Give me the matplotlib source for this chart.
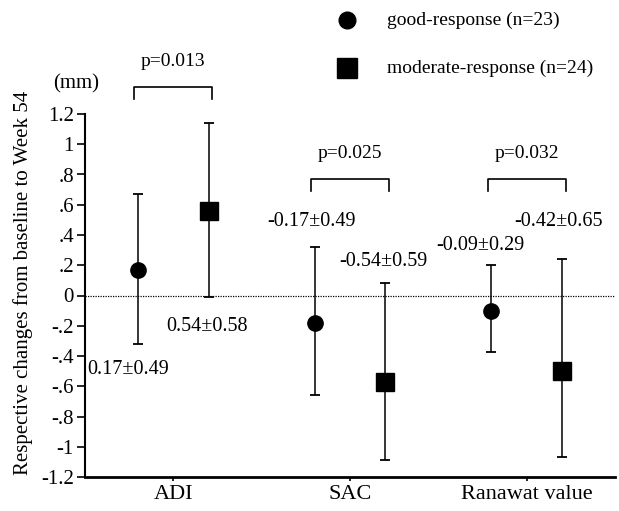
import matplotlib
matplotlib.use("Agg")
import matplotlib.pyplot as plt
from matplotlib.lines import Line2D

plt.rcParams['font.family'] = ['Liberation Serif', 'DejaVu Serif']

categories = ["ADI", "SAC", "Ranawat value"]
good_mean = [0.17, -0.18, -0.105]
good_low = [-0.32, -0.655, -0.375]
good_high = [0.67, 0.32, 0.20]
mod_mean = [0.56, -0.573, -0.50]
mod_low = [-0.013, -1.085, -1.065]
mod_high = [1.14, 0.084, 0.24]
good_labels = ["0.17\u00b10.49", "-0.17\u00b10.49", "-0.09\u00b10.29"]
mod_labels = ["0.54\u00b10.58", "-0.54\u00b10.59", "-0.42\u00b10.65"]
p_values = ["p=0.013", "p=0.025", "p=0.032"]
yticks = [1.2, 1, 0.8, 0.6, 0.4, 0.2, 0, -0.2, -0.4, -0.6, -0.8, -1, -1.2]
ytick_labels = ["1.2", "1", ".8", ".6", ".4", ".2", "0", "-.2", "-.4", "-.6", "-.8", "-1", "-1.2"]
legend_labels = ["good-response (n=23)", "moderate-response (n=24)"]

W, H = 619, 511
fig = plt.figure(figsize=(W / 100, H / 100), dpi=100)
ax = fig.add_axes([85 / W, (H - 477) / H, (615 - 85) / W, (477 - 114) / H])

off = 0.2
xs = list(range(len(categories)))
xg = [x - off for x in xs]
xm = [x + off for x in xs]

ax.errorbar(xg, good_mean,
            yerr=[[m - l for m, l in zip(good_mean, good_low)],
                  [h - m for m, h in zip(good_mean, good_high)]],
            fmt='o', color='black', ms=11, capsize=3.5, elinewidth=1.1, capthick=1.3, zorder=3)
ax.errorbar(xm, mod_mean,
            yerr=[[m - l for m, l in zip(mod_mean, mod_low)],
                  [h - m for m, h in zip(mod_mean, mod_high)]],
            fmt='s', color='black', ms=13, capsize=3.5, elinewidth=1.1, capthick=1.3, zorder=3)

ax.axhline(0, color='black', lw=0.9, ls=(0, (1, 1)), zorder=1)

ax.set_xlim(-0.5, 2.5)
ax.set_ylim(-1.2, 1.2)
ax.set_yticks(yticks)
ax.set_yticklabels(ytick_labels, fontsize=15)
ax.set_xticks(xs)
ax.set_xticklabels(categories, fontsize=16)
ax.tick_params(axis='y', direction='out', length=6, width=1.2, pad=2)
ax.tick_params(axis='x', direction='out', length=3, width=1.2, pad=3)
for s in ['top', 'right']:
    ax.spines[s].set_visible(False)
ax.spines['left'].set_linewidth(1.5)
ax.spines['bottom'].set_linewidth(2.0)

ax.set_ylabel("Respective changes from baseline to Week 54", fontsize=15)
ax.yaxis.set_label_coords(-0.098, 0.534)

# value labels (positions in data coordinates)
good_label_pos = [(-0.257, -0.49), (0.78, 0.49), (1.74, 0.33)]
mod_label_pos = [(0.19, -0.205), (1.19, 0.225), (2.18, 0.49)]
for (x, y), t in zip(good_label_pos, good_labels):
    ax.text(x, y, t, fontsize=14.5, ha='center', va='center', clip_on=False)
for (x, y), t in zip(mod_label_pos, mod_labels):
    ax.text(x, y, t, fontsize=14.5, ha='center', va='center', clip_on=False)

# significance brackets
br_top = [1.38, 0.77, 0.77]
br_leg = 0.08
for x, yt, p in zip(xs, br_top, p_values):
    ax.plot([x - 0.22, x - 0.22, x + 0.22, x + 0.22], [yt - br_leg, yt, yt, yt - br_leg],
            color='black', lw=1.2, clip_on=False)
    ax.text(x, yt + 0.17, p, fontsize=14, ha='center', va='center', clip_on=False)

ax.text(-0.55, 1.40, "(mm)", fontsize=15, ha='center', va='center', clip_on=False)

# legend
fig.add_artist(Line2D([347 / W], [1 - 20 / H], marker='o', color='black', ms=12, ls='none'))
fig.add_artist(Line2D([347 / W], [1 - 68 / H], marker='s', color='black', ms=14, ls='none'))
fig.text(387 / W, 1 - 20 / H, legend_labels[0], fontsize=14, ha='left', va='center')
fig.text(387 / W, 1 - 68 / H, legend_labels[1], fontsize=14, ha='left', va='center')

fig.savefig("out.png", dpi=100)
